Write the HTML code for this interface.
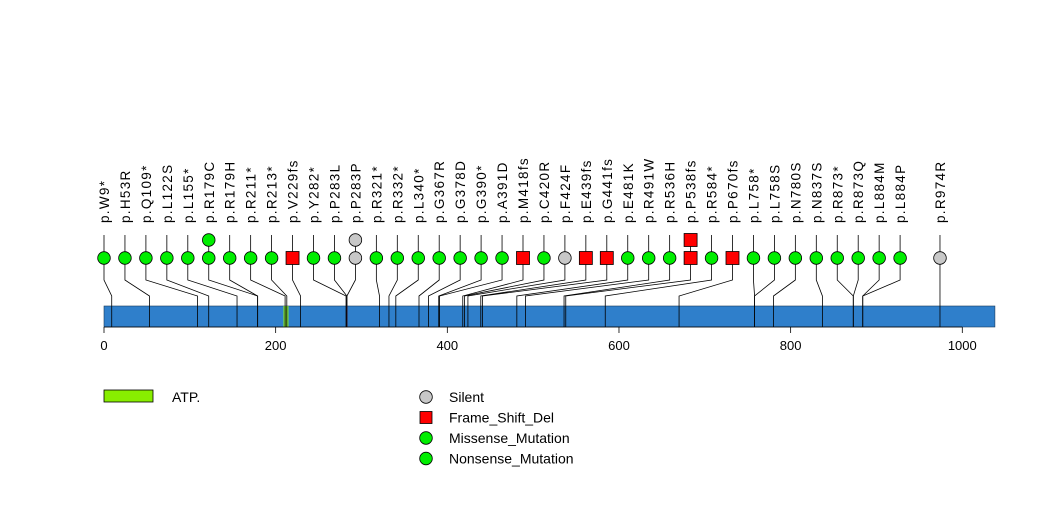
<!DOCTYPE html>
<html><head><meta charset="utf-8"><style>
body{margin:0;background:#fff}
svg text{font-family:"Liberation Sans",sans-serif}
</style></head><body>
<svg id="c" width="1047" height="524" xmlns="http://www.w3.org/2000/svg"></svg>
<script>
const labels=["p.W9*","p.H53R","p.Q109*","p.L122S","p.L155*","p.R179C","p.R179H","p.R211*","p.R213*","p.V229fs","p.Y282*","p.P283L","p.P283P","p.R321*","p.R332*","p.L340*","p.G367R","p.G378D","p.G390*","p.A391D","p.M418fs","p.C420R","p.F424F","p.E439fs","p.G441fs","p.E481K","p.R491W","p.R536H","p.P538fs","p.R584*","p.P670fs","p.L758*","p.L758S","p.N780S","p.N837S","p.R873*","p.R873Q","p.L884M","p.L884P","p.R974R"];
const positions=[9,53,109,122,155,179,179,211,213,229,282,283,283,321,332,340,367,378,390,391,418,420,424,439,441,481,491,536,538,584,670,758,758,780,837,873,873,884,884,974];
const types=["M","M","M","M","M","M","M","M","M","F","M","M","S","M","M","M","M","M","M","M","F","M","S","F","F","M","M","M","F","M","F","M","M","M","M","M","M","M","M","S"];
const counts=[1,1,1,1,1,2,1,1,1,1,1,1,2,1,1,1,1,1,1,1,1,1,1,1,1,1,1,1,2,1,1,1,1,1,1,1,1,1,1,1];
const protLen=1038;
const ticks=[0,200,400,600,800,1000];
const domains=[{name:"ATP",start:209,end:215,color:"#7FE03A"},{name:"other",start:282,end:283,color:"#E070E0"}];
const svg=document.getElementById('c');const NS="http://www.w3.org/2000/svg";
const x=v=>104+v*0.8583;
function el(t,a,p){const e=document.createElementNS(NS,t);for(const k in a)e.setAttribute(k,a[k]);(p||svg).appendChild(e);return e;}
const colors={M:"#00EE00",F:"#FF0000",S:"#C8C8C8"};
let b=el('rect',{x:104,y:306,width:x(protLen)-104,height:21,fill:"#2F7FCB",stroke:"#1a3a5a","stroke-width":0.6});

domains.forEach(d=>{let r=el('rect',{x:x(d.start),y:306,width:Math.max(1.5,x(d.end)-x(d.start)),height:21,fill:d.color});
});
el('line',{x1:104,y1:327,x2:x(1000),y2:327,stroke:"#000","stroke-width":0.8});
ticks.forEach(t=>{el('line',{x1:x(t),y1:327,x2:x(t),y2:333,stroke:"#000","stroke-width":0.8});
let tx=el('text',{x:x(t),y:350,"font-size":13,"text-anchor":"middle"});tx.textContent=t;
});
const n=labels.length;
labels.forEach((lab,i)=>{
 const cx=i<n-1?104+i*20.95:x(positions[i]);const px=x(positions[i]);
 const g=el('g',{});
 
 
 el('polyline',{points:`${px},327 ${px},296 ${cx},280 ${cx},235`,fill:"none",stroke:"#000","stroke-width":0.8},g);
 for(let k=0;k<counts[i];k++){const cy=258-k*18;
  if(types[i]==="F")el('rect',{x:cx-6.5,y:cy-6.5,width:13,height:13,fill:colors.F,stroke:"#000","stroke-width":0.8},g);
  else el('circle',{cx:cx,cy:cy,r:6.3,fill:colors[types[i]],stroke:"#000","stroke-width":0.8},g);}
 const t=el('text',{x:0,y:0,"font-size":13.5,transform:`translate(${cx+5},223) rotate(-90)`,"letter-spacing":"1.3"},g);t.textContent=lab;
});
let lr=el('rect',{x:104,y:390,width:49,height:12,fill:"#88EE00",stroke:"#000","stroke-width":0.8});

let lt=el('text',{x:172,y:402,"font-size":14});lt.textContent="ATP.";
const legNames=["Silent","Frame_Shift_Del","Missense_Mutation","Nonsense_Mutation"];
const legTypes=["S","F","M","M"];
legNames.forEach((nm,i)=>{const y=397+i*20.5;const g=el('g',{});
 
 if(legTypes[i]==="F")el('rect',{x:420,y:y-6,width:12,height:12,fill:colors.F,stroke:"#000","stroke-width":0.8},g);
 else el('circle',{cx:426,cy:y,r:6.3,fill:colors[legTypes[i]],stroke:"#000","stroke-width":0.8},g);
 const t=el('text',{x:449,y:y+5,"font-size":14},g);t.textContent=nm;});
</script>
</body></html>
